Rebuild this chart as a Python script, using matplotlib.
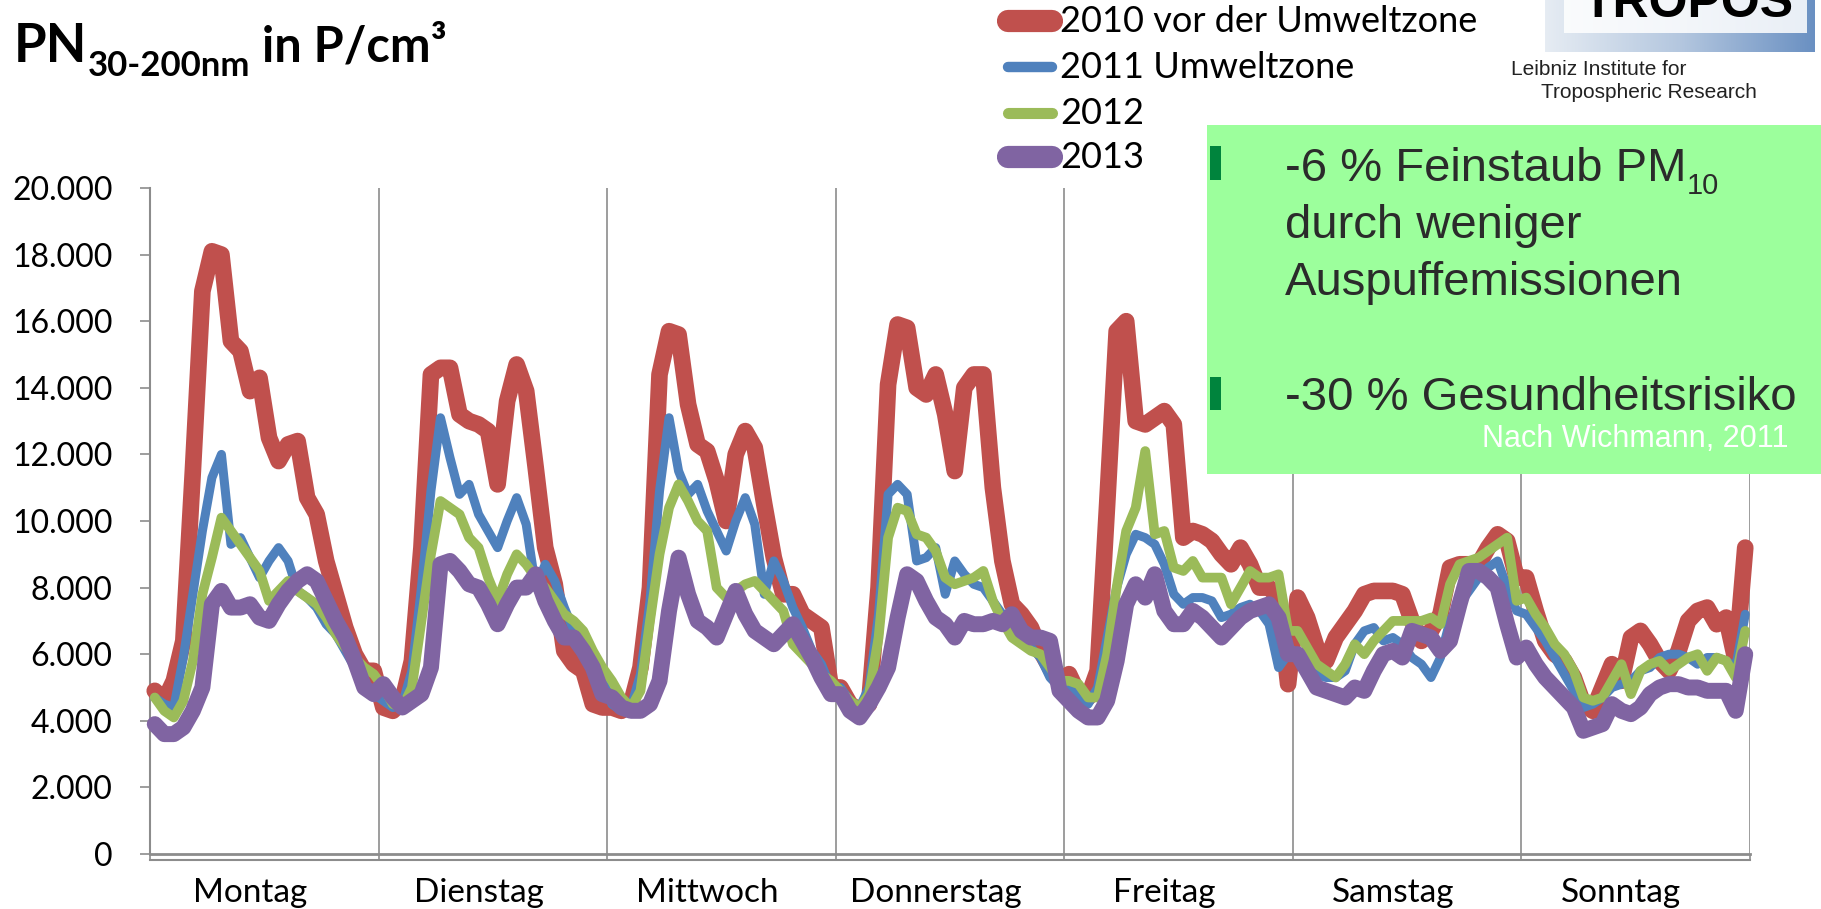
import numpy as np
import matplotlib
matplotlib.use("Agg")
import matplotlib.pyplot as plt
from matplotlib.lines import Line2D
from matplotlib.patches import Rectangle
from matplotlib.ticker import FuncFormatter, MultipleLocator

# ================================================================
# Daten: Partikelanzahl PN 30-200 nm (P/cm³), Stundenmittel Mo..So
# ================================================================

DAYS = ["Montag", "Dienstag", "Mittwoch", "Donnerstag", "Freitag", "Samstag", "Sonntag"]
SERIES = ["2010 vor der Umweltzone", "2011 Umweltzone", "2012", "2013"]
COLORS = ["#C0504D", "#4F81BD", "#9BBB59", "#8064A2"]

pn_2010 = [
    4900, 4600, 5200, 6400, 11500, 16900, 18100, 18000, 15400, 15100, 13900, 14300, 12500, 11800, 12300, 12400, 10700, 10200, 8800, 7800, 6800, 6000, 5500, 5500,
    4400, 4300, 4600, 5800, 9200, 14400, 14600, 14600, 13200, 13000, 12900, 12700, 11100, 13600, 14700, 13900, 11600, 9200, 8100, 6100, 5700, 5500, 4500, 4400,
    4400, 4300, 4500, 5600, 8000, 14400, 15700, 15600, 13500, 12300, 12100, 11200, 10000, 12000, 12700, 12200, 10500, 8900, 7800, 7800, 7200, 7000, 6800, 5000,
    5000, 4500, 4300, 4500, 8000, 14100, 15900, 15800, 14000, 13800, 14400, 13200, 11500, 14000, 14400, 14400, 11000, 8800, 7500, 7200, 6800, 6100, 5600, 5200,
    5400, 4800, 4700, 5500, 10500, 15700, 16000, 13000, 12900, 13100, 13300, 12900, 9500, 9700, 9600, 9400, 9000, 8700, 9200, 8700, 8000, 8000, 7700, 5100,
    7700, 7100, 6200, 5800, 6500, 6900, 7300, 7800, 7900, 7900, 7900, 7800, 7000, 6400, 6700, 7200, 8600, 8700, 8700, 8700, 9200, 9600, 9400, 8300,
    8300, 7300, 6400, 6000, 5800, 5300, 4500, 4300, 5000, 5700, 5200, 6500, 6700, 6300, 5800, 5500, 6100, 7000, 7300, 7400, 6900, 7100, 5800, 9200,
]
pn_2011 = [
    4700, 4500, 4400, 5900, 7800, 9700, 11300, 12000, 9300, 9500, 8900, 8300, 8800, 9200, 8800, 7900, 7700, 7400, 6900, 6600, 6100, 5600, 5100, 4800,
    4600, 4400, 4500, 5500, 8000, 10900, 13100, 11900, 10800, 11100, 10200, 9700, 9200, 10000, 10700, 9900, 8000, 8700, 8200, 7400, 6700, 6300, 5900, 5300,
    4500, 4300, 4400, 5400, 7600, 10900, 13100, 11500, 10800, 11100, 10300, 9700, 9100, 10000, 10700, 9900, 7800, 8800, 8200, 7400, 6800, 6100, 5700, 5000,
    5000, 4600, 4400, 5000, 7200, 10800, 11100, 10800, 8800, 8900, 9200, 7800, 8800, 8400, 8100, 8000, 7600, 7200, 6800, 6500, 6200, 5900, 5300, 5000,
    5000, 4700, 4500, 5000, 6500, 8000, 9000, 9600, 9500, 9300, 8700, 7800, 7500, 7700, 7700, 7600, 7100, 7200, 7400, 7500, 7300, 6900, 5600, 6000,
    6000, 5800, 5400, 5300, 5300, 5500, 6300, 6700, 6800, 6400, 6500, 6300, 5900, 5700, 5300, 5900, 7000, 7500, 7900, 8300, 8600, 8800, 8000, 7300,
    7200, 6800, 6400, 5900, 5400, 4900, 4400, 4500, 4700, 5000, 5100, 5200, 5500, 5600, 5900, 6000, 6000, 5900, 5700, 5900, 5900, 5800, 5600, 7200,
]
pn_2012 = [
    4700, 4300, 4100, 4600, 5800, 7800, 8900, 10100, 9700, 9300, 8900, 8500, 7600, 7900, 8200, 7900, 7700, 7500, 7100, 6600, 6200, 5900, 5600, 5400,
    5000, 4500, 4400, 5000, 7000, 9000, 10600, 10400, 10200, 9500, 9200, 8300, 7600, 8400, 9000, 8700, 8300, 8000, 7600, 7200, 7000, 6700, 6100, 5600,
    5200, 4700, 4400, 4900, 7000, 9000, 10400, 11100, 10600, 10000, 9700, 8000, 7700, 7900, 8100, 8200, 7900, 7600, 7300, 6300, 6000, 5700, 5400, 5200,
    4900, 4600, 4400, 4800, 6500, 9500, 10400, 10300, 9600, 9500, 9100, 8300, 8100, 8200, 8300, 8500, 7600, 7000, 6500, 6300, 6100, 6000, 5600, 5200,
    5200, 5100, 4700, 4700, 6000, 8000, 9700, 10400, 12100, 9600, 9700, 8600, 8500, 8800, 8300, 8300, 8300, 7500, 8000, 8500, 8300, 8300, 8400, 6700,
    6700, 6200, 5700, 5500, 5300, 5700, 6300, 6000, 6400, 6700, 7000, 7000, 7000, 7000, 7100, 6900, 8100, 8700, 8800, 8900, 9100, 9300, 9500, 7600,
    7700, 7200, 6800, 6300, 6000, 5500, 4700, 4600, 4700, 5200, 5700, 4800, 5500, 5700, 5800, 5500, 5700, 5900, 6000, 5500, 5900, 5800, 5300, 6700,
]
pn_2013 = [
    3900, 3600, 3600, 3800, 4300, 5000, 7500, 7900, 7400, 7400, 7500, 7100, 7000, 7500, 7900, 8200, 8400, 8200, 7600, 7000, 6500, 5800, 5000, 4800,
    5100, 4700, 4400, 4600, 4800, 5600, 8700, 8800, 8500, 8100, 8000, 7500, 6900, 7500, 8000, 8000, 8400, 7600, 7000, 6500, 6500, 6100, 5600, 4800,
    4700, 4400, 4300, 4300, 4500, 5200, 7300, 8900, 7800, 7000, 6800, 6500, 7200, 7900, 7200, 6700, 6500, 6300, 6600, 6900, 6400, 5900, 5300, 4800,
    4800, 4300, 4100, 4500, 5000, 5600, 7100, 8400, 8200, 7600, 7100, 6900, 6500, 7000, 6900, 6900, 7000, 6900, 7200, 6700, 6500, 6500, 6400, 4900,
    4600, 4300, 4100, 4100, 4600, 5800, 7500, 8100, 7700, 8400, 7300, 6900, 6900, 7300, 7100, 6800, 6500, 6800, 7100, 7300, 7400, 7500, 7100, 6000,
    6000, 5500, 5000, 4900, 4800, 4700, 5000, 4900, 5500, 6000, 6100, 5900, 6700, 6600, 6500, 6100, 6400, 7500, 8500, 8500, 8300, 8000, 6900, 5900,
    6200, 5700, 5300, 5000, 4700, 4400, 3700, 3800, 3900, 4500, 4300, 4200, 4400, 4800, 5000, 5100, 5100, 5000, 5000, 4900, 4900, 4900, 4300, 6000,
]

# Linienbreiten wie im Original (2010 / 2013 dick, 2011 / 2012 dünn)
LINE_W = [12, 6.5, 7, 11.5]
LEGEND_W = [16, 7.5, 8, 16]

W, H = 1821, 909


def fx(x):
    return x / W


def fy(y):
    return 1 - y / H


fig = plt.figure(figsize=(W / 100, H / 100), dpi=100)
fig.patch.set_facecolor("white")
renderer = fig.canvas.get_renderer()


def text_runs(x, y, runs, color="black", family="Lato"):
    """Textstücke nacheinander setzen (für Tief-/Hochstellung)."""
    for s, size, dy, weight in runs:
        t = fig.text(fx(x), fy(y + dy), s, fontsize=size, fontweight=weight,
                     color=color, family=family, va="baseline", ha="left", zorder=7)
        x += t.get_window_extent(renderer).width


# ================================================================
# Diagramm
# ================================================================

ax = fig.add_axes([fx(150), fy(854), (1750 - 150) / W, (854 - 188) / H])

hours = np.arange(len(pn_2010)) + 0.5
for vals, col, lw in zip([pn_2010, pn_2011, pn_2012, pn_2013], COLORS, LINE_W):
    ax.plot(hours, vals, color=col, lw=lw, solid_capstyle="round",
            solid_joinstyle="round", clip_on=False, zorder=3)

ax.set_xlim(0, 24 * len(DAYS))
ax.set_ylim(0, 20000)

grey = "#8c8c8c"
ax.yaxis.set_major_locator(MultipleLocator(2000))
ax.yaxis.set_major_formatter(FuncFormatter(lambda v, p: f"{v:,.0f}".replace(",", ".")))
ax.set_xticks(np.arange(0, 24 * len(DAYS) + 1, 24))
ax.set_xticklabels([])
ax.set_xticks(np.arange(len(DAYS)) * 24 + 10.5, minor=True)
ax.set_xticklabels(DAYS, minor=True)

ax.tick_params(axis="y", length=7, width=1.2, color=grey, pad=20,
               labelsize=23, labelfontfamily="Lato")
ax.tick_params(axis="x", which="major", length=5, width=1.2, color=grey)
ax.tick_params(axis="x", which="minor", length=0, pad=17,
               labelsize=24, labelfontfamily="Lato")

ax.grid(axis="x", which="major", color=grey, lw=1.2, zorder=1)
for side in ["top", "right"]:
    ax.spines[side].set_visible(False)
ax.spines["left"].set_color(grey)
ax.spines["left"].set_linewidth(1.5)
ax.spines["bottom"].set_color(grey)
ax.spines["bottom"].set_linewidth(2)
fig.add_artist(Line2D([fx(150), fx(1750)], [fy(860), fy(860)], color=grey, lw=1.5))

# ================================================================
# Titel
# ================================================================

text_runs(14, 62, [("PN", 38, 0, "bold"), ("30-200nm", 25, 14, "bold"),
                   (" in P/cm³", 35, 0, "bold")])

# ================================================================
# Legende
# ================================================================

leg_y = [21, 67, 113, 157]
for name, col, lw, y in zip(SERIES, COLORS, LEGEND_W, leg_y):
    fig.add_artist(Line2D([fx(1008), fx(1052)], [fy(y), fy(y)], color=col, lw=lw,
                          solid_capstyle="round"))
    fig.text(fx(1060), fy(y), name, fontsize=26, family="Lato", va="center", ha="left")

# ================================================================
# Logo TROPOS
# ================================================================

lax = fig.add_axes([fx(1545), fy(52), (1815 - 1545) / W, 52 / H])
grad = np.linspace(0, 1, 256).reshape(1, -1)
cmap = matplotlib.colors.LinearSegmentedColormap.from_list(
    "logo", ["#e6ecf3", "#b4c7df", "#6a90c2"])
lax.imshow(grad, aspect="auto", cmap=cmap, extent=(0, 1, 0, 1))
lax.add_patch(Rectangle((0.07, 0.36), 0.90, 0.64, facecolor="white", alpha=0.85,
                        edgecolor="none", transform=lax.transAxes))
lax.set_xlim(0, 1)
lax.set_ylim(0, 1)
lax.axis("off")
lax.text(0.53, 0.67, "TROPOS", fontsize=36, fontweight="bold", family="Liberation Sans",
         color="black", va="baseline", ha="center", transform=lax.transAxes)

fig.text(fx(1511), fy(75), "Leibniz Institute for", fontsize=15,
         family="Liberation Sans", color="#222222", va="baseline")
fig.text(fx(1541), fy(98), "Tropospheric Research", fontsize=15,
         family="Liberation Sans", color="#222222", va="baseline")

# ================================================================
# Grüne Box
# ================================================================

fig.add_artist(Rectangle((fx(1207), fy(474)), (W - 1207) / W, (474 - 125) / H,
                         transform=fig.transFigure, facecolor="#9cff9c",
                         edgecolor="none", zorder=5))
for yb in [(146, 180), (377, 410)]:
    fig.add_artist(Rectangle((fx(1210), fy(yb[1])), 11 / W, (yb[1] - yb[0]) / H,
                             transform=fig.transFigure, facecolor="#00843d",
                             edgecolor="none", zorder=6))

box_col = "#2b2b2b"
box_fam = "Liberation Sans"
fs = 34
tx = 1285
text_runs(tx, 181, [("-6 % Feinstaub PM", fs, 0, "normal"), ("10", 21, 13, "normal")],
          color=box_col, family=box_fam)
for txt, y in [("durch weniger", 238), ("Auspuffemissionen", 295),
               ("-30 % Gesundheitsrisiko", 410)]:
    fig.text(fx(tx), fy(y), txt, fontsize=fs, family=box_fam, color=box_col,
             va="baseline", zorder=7)
fig.text(fx(1788), fy(447), "Nach Wichmann, 2011", fontsize=22, family=box_fam,
         color="white", va="baseline", ha="right", zorder=7)

fig.savefig("out.png", dpi=100)
